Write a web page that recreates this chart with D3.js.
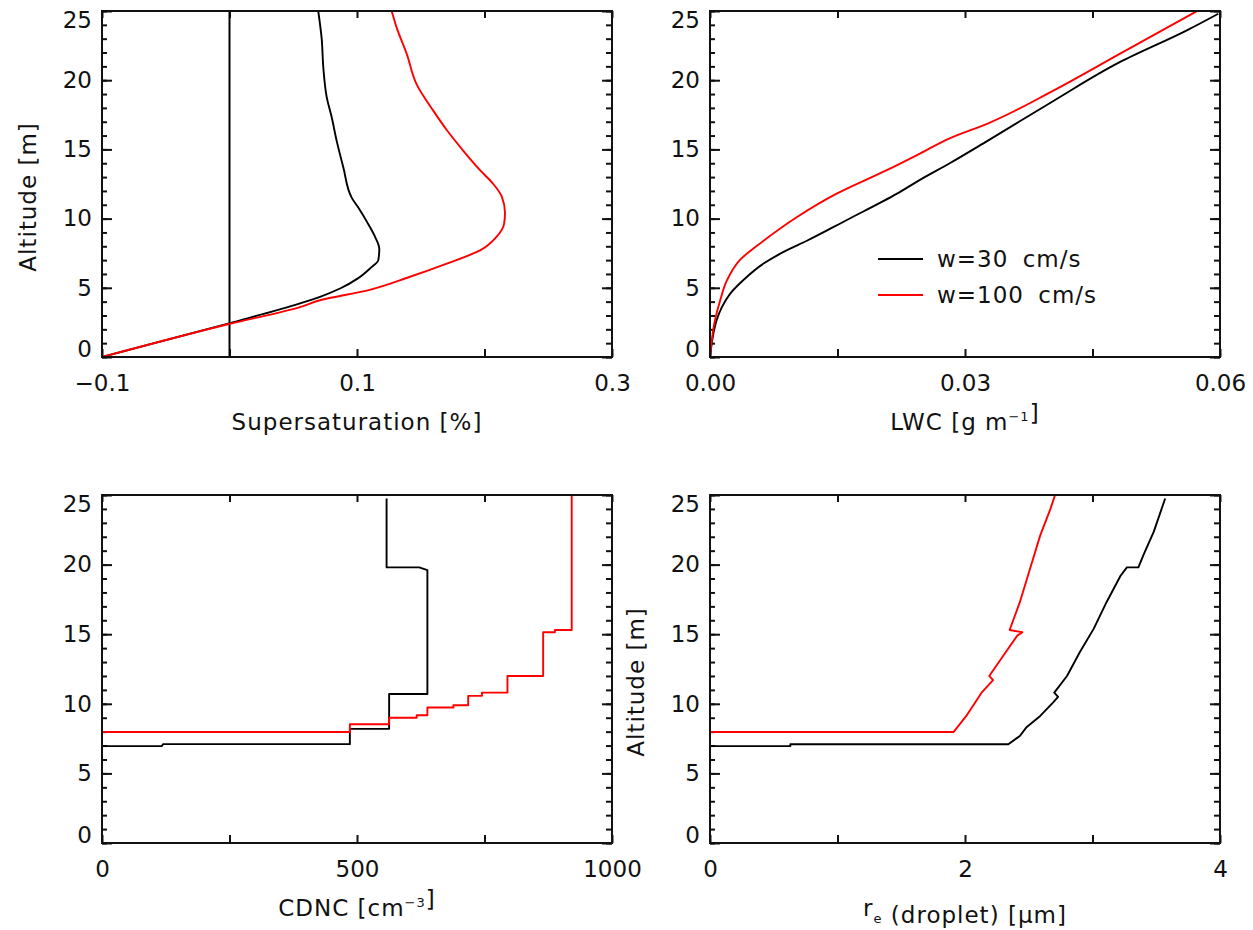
<!DOCTYPE html>
<html>
<head>
<meta charset="utf-8">
<script src="https://cdn.jsdelivr.net/npm/d3@7/dist/d3.min.js"></script>
<style>
  body { margin: 0; background: #fff; }
  text { font-family: "DejaVu Sans", sans-serif; fill: #111; }
</style>
</head>
<body>
<svg id="chart" width="1253" height="930"></svg>
<script>
// ************************************
// Data
// ************************************

// altitude axis shared by every panel
const altDomain = [0, 25];
const altMajor = [0, 5, 10, 15, 20, 25];
const altMinor = d3.range(0, 26, 1);

// supersaturation [%] vs altitude [m]
const ssW30 = [[-0.1, 0], [0.0004, 2.45], [0.0553, 3.87], [0.0710, 4.35], [0.0867, 4.95],
  [0.1010, 5.7], [0.1102, 6.4], [0.1167, 7.0], [0.1175, 7.8], [0.1141, 8.7], [0.1076, 9.8],
  [0.1010, 10.8], [0.0959, 11.5], [0.0893, 13.7], [0.0841, 15.6], [0.0802, 17.3],
  [0.0762, 18.8], [0.0736, 20.9], [0.0723, 23.0], [0.0696, 25]];
const ssW100 = [[-0.1, 0], [0.0004, 2.4], [0.0553, 3.6], [0.0710, 4.1], [0.1076, 4.8],
  [0.1416, 5.8], [0.1704, 6.75], [0.1965, 7.7], [0.2096, 8.7], [0.2153, 9.6], [0.2161, 10.4],
  [0.2135, 11.6], [0.2069, 12.5], [0.1965, 13.5], [0.1834, 14.9], [0.1704, 16.4],
  [0.1598, 17.8], [0.1468, 19.7], [0.1390, 21.9], [0.1311, 23.8], [0.1272, 25]];
const ssZeroLine = [[0, 0], [0, 25]];

// liquid water content vs altitude
const lwcW30 = [[0, 0], [0.0004, 1.7], [0.0008, 2.7], [0.0014, 3.6], [0.0024, 4.6],
  [0.0039, 5.55], [0.0063, 6.75], [0.0090, 7.7], [0.0114, 8.4], [0.0161, 9.9],
  [0.0220, 11.8], [0.0247, 12.8], [0.0282, 14.0], [0.0326, 15.6], [0.0404, 18.5],
  [0.0482, 21.3], [0.0561, 23.6], [0.0598, 24.8]];
const lwcW100 = [[0, 0], [0.0006, 2.7], [0.0012, 4.1], [0.0020, 5.55], [0.0035, 7.0],
  [0.0063, 8.4], [0.0102, 10.1], [0.0149, 11.8], [0.0208, 13.5], [0.0247, 14.7],
  [0.0282, 15.8], [0.0326, 16.85], [0.0404, 19.25], [0.0482, 21.9], [0.0573, 25.0]];

// droplet number concentration (step profiles)
const cdncW30 = [[0, 0], [0, 6.96], [117, 6.96], [120, 7.1], [486, 7.1], [486, 8.2],
  [563, 8.2], [563, 10.7], [638, 10.7], [638, 19.6], [622, 19.8], [558, 19.8], [558, 24.75]];
const cdncW100 = [[0, 0], [0, 7.97], [486, 7.97], [486, 8.53], [563, 8.53], [563, 9.0],
  [617, 9.0], [617, 9.18], [638, 9.18], [638, 9.73], [689, 9.73], [689, 9.9], [718, 9.9],
  [718, 10.57], [745, 10.57], [745, 10.8], [795, 10.8], [795, 12.0], [865, 12.0],
  [865, 15.14], [888, 15.14], [888, 15.3], [921, 15.3], [921, 25.1]];

// effective radius vs altitude
const reW30 = [[0, 0], [0, 6.96], [0.63, 6.96], [0.63, 7.09], [2.34, 7.09], [2.43, 7.69],
  [2.48, 8.29], [2.59, 9.13], [2.69, 10.09], [2.73, 10.5], [2.70, 10.8], [2.80, 12.0],
  [2.90, 13.7], [3.01, 15.4], [3.11, 17.3], [3.22, 19.2], [3.27, 19.8], [3.36, 19.8],
  [3.40, 20.7], [3.48, 22.35], [3.57, 24.75]];
const reW100 = [[0, 0], [0, 7.97], [1.91, 7.97], [2.01, 9.13], [2.13, 10.8], [2.22, 11.7],
  [2.19, 12.0], [2.30, 13.45], [2.41, 14.9], [2.45, 15.14], [2.35, 15.3], [2.43, 17.3],
  [2.51, 19.7], [2.59, 22.1], [2.67, 24.0], [2.71, 25.1]];

const legendLabels = ["w=30 cm/s", "w=100 cm/s"];
const seriesColors = ["#000000", "#ff0000"];

// ************************************
// Layout
// ************************************

const svg = d3.select("#chart");
const FONT = 23;

const panels = [
  { left: 102, top: 11, width: 510, height: 346,
    xDomain: [-0.1, 0.3], xTicks: [-0.1, 0, 0.1, 0.2, 0.3],
    xLabel: d => ([-0.1, 0.1, 0.3].some(v => Math.abs(v - d) < 1e-9) ? d3.format(".1f")(d) : ""),
    title: ["Supersaturation [%]"], altTitle: true, smooth: true,
    extra: [ssZeroLine], series: [ssW30, ssW100] },
  { left: 710, top: 11, width: 510, height: 346,
    xDomain: [0, 0.06], xTicks: [0, 0.015, 0.03, 0.045, 0.06],
    xLabel: d => ([0, 0.03, 0.06].some(v => Math.abs(v - d) < 1e-9) ? d3.format(".2f")(d) : ""),
    title: ["LWC [g m", "sup:−1", "]"], altTitle: false, legend: true, smooth: true,
    extra: [], series: [lwcW30, lwcW100] },
  { left: 102, top: 495, width: 510, height: 348,
    xDomain: [0, 1000], xTicks: [0, 250, 500, 750, 1000],
    xLabel: d => (d % 500 === 0 ? String(d) : ""),
    title: ["CDNC [cm", "sup:−3", "]"], altTitle: false, smooth: false,
    extra: [], series: [cdncW30, cdncW100] },
  { left: 710, top: 495, width: 510, height: 348,
    xDomain: [0, 4], xTicks: [0, 1, 2, 3, 4],
    xLabel: d => (d % 2 === 0 ? String(d) : ""),
    title: ["r", "sub:e", " (droplet) [μm]"], altTitle: true, smooth: false,
    extra: [], series: [reW30, reW100] }
];

panels.forEach((p, i) => {
  const g = svg.append("g").attr("transform", `translate(${p.left},${p.top})`);
  const x = d3.scaleLinear().domain(p.xDomain).range([0, p.width]);
  const y = d3.scaleLinear().domain(altDomain).range([p.height, 0]);

  g.append("clipPath").attr("id", "clip" + i)
    .append("rect").attr("width", p.width).attr("height", p.height);

  // minor ticks left / right
  g.append("g").call(d3.axisLeft(y).tickValues(altMinor).tickSize(-5).tickFormat(""));
  g.append("g").attr("transform", `translate(${p.width},0)`)
    .call(d3.axisRight(y).tickValues(altMinor).tickSize(-6).tickFormat(""));
  // major ticks right
  g.append("g").attr("transform", `translate(${p.width},0)`)
    .call(d3.axisRight(y).tickValues(altMajor).tickSize(-10).tickFormat(""));
  // major ticks + labels left
  const yAx = g.append("g")
    .call(d3.axisLeft(y).tickValues(altMajor).tickSize(-10).tickPadding(10).tickFormat(d3.format("d")));
  yAx.selectAll("text").style("font-size", FONT + "px");
  yAx.selectAll(".tick text").filter(d => d === 0).attr("y", -8);
  yAx.selectAll(".tick text").filter(d => d === 25).attr("y", 9);

  // x ticks top / bottom
  g.append("g").call(d3.axisTop(x).tickValues(p.xTicks).tickSize(-7).tickFormat(""));
  const xAx = g.append("g").attr("transform", `translate(0,${p.height})`)
    .call(d3.axisBottom(x).tickValues(p.xTicks).tickSize(-8).tickPadding(18).tickFormat(p.xLabel));
  xAx.selectAll("text").style("font-size", FONT + "px");

  g.selectAll(".domain").remove();
  g.selectAll(".tick line").attr("stroke", "#111").attr("stroke-width", 2);

  const straight = d3.line().x(d => x(d[0])).y(d => y(d[1]));
  const line = p.smooth ? d3.line().x(d => x(d[0])).y(d => y(d[1])).curve(d3.curveMonotoneY) : straight;
  const plot = g.append("g").attr("clip-path", `url(#clip${i})`);
  p.extra.forEach(s => plot.append("path").attr("d", straight(s))
    .attr("fill", "none").attr("stroke", "#000").attr("stroke-width", 2));
  p.series.forEach((s, k) => plot.append("path").attr("d", line(s))
    .attr("fill", "none").attr("stroke", seriesColors[k]).attr("stroke-width", 1.9)
    .attr("stroke-linejoin", "round"));

  // frame
  g.append("rect").attr("width", p.width).attr("height", p.height)
    .attr("fill", "none").attr("stroke", "#111").attr("stroke-width", 2);

  // x title
  const t = g.append("text").attr("x", p.width / 2).attr("y", p.height + 73)
    .attr("text-anchor", "middle").style("font-size", FONT + "px").style("letter-spacing", "1px");
  p.title.forEach(part => {
    if (part.startsWith("sup:")) {
      t.append("tspan").text(part.slice(4)).attr("dy", -9).style("font-size", "13px");
      t.append("tspan").text("").attr("dy", 9);
    } else if (part.startsWith("sub:")) {
      t.append("tspan").text(part.slice(4)).attr("dy", 7).style("font-size", "13px");
      t.append("tspan").text("").attr("dy", -7);
    } else {
      t.append("tspan").text(part);
    }
  });

  // y title
  if (p.altTitle) {
    g.append("text")
      .attr("transform", `translate(${-74},${p.height / 2 + 13}) rotate(-90)`)
      .attr("text-anchor", "middle").attr("dy", "0.35em")
      .style("font-size", FONT + "px").style("letter-spacing", "1px")
      .text("Altitude [m]");
  }

  // legend
  if (p.legend) {
    legendLabels.forEach((lab, k) => {
      const ly = 248 + k * 36;
      g.append("line").attr("x1", 168).attr("x2", 213).attr("y1", ly).attr("y2", ly)
        .attr("stroke", seriesColors[k]).attr("stroke-width", 1.8);
      g.append("text").attr("x", 227).attr("y", ly).attr("dy", "0.35em")
        .style("font-size", FONT + "px").style("letter-spacing", "1px").style("word-spacing", "6px")
        .text(lab);
    });
  }
});
</script>
</body>
</html>
